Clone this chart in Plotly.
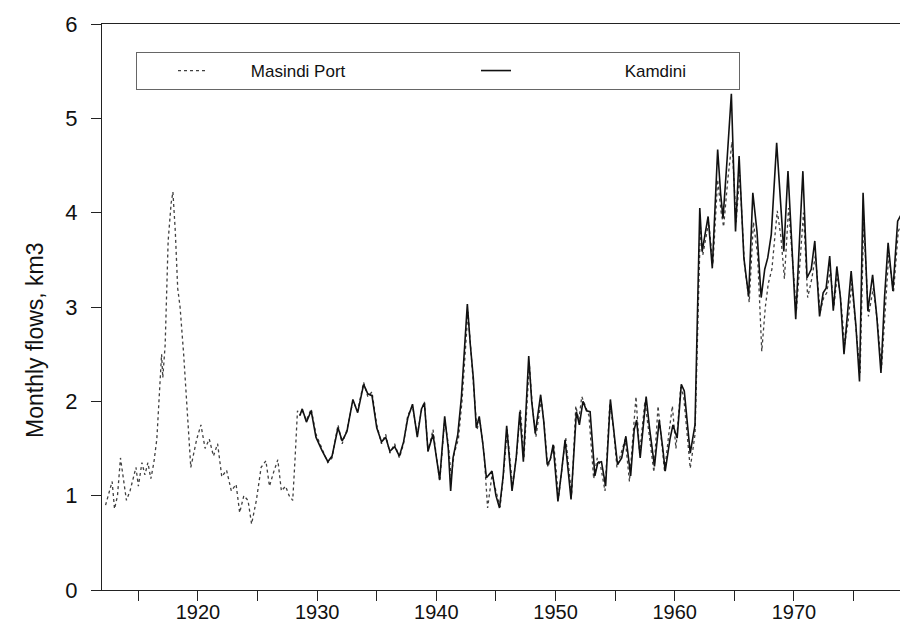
import plotly.graph_objects as go

# ---- Masindi Port (dotted) : year, monthly flow km3 ----
masindi_years = [
    1912.25, 1912.55, 1912.8, 1913.0, 1913.25, 1913.5, 1913.75, 1914.0, 1914.3, 1914.55,
    1914.8, 1915.0, 1915.3, 1915.55, 1915.8, 1916.05, 1916.3, 1916.55, 1916.8, 1916.95,
    1917.05, 1917.25, 1917.5, 1917.75, 1917.9, 1918.1, 1918.3, 1918.5, 1918.8, 1919.1,
    1919.4, 1919.9, 1920.25, 1920.6, 1920.95, 1921.3, 1921.65, 1922.0, 1922.4, 1922.8,
    1923.2, 1923.5, 1923.85, 1924.2, 1924.5, 1924.9, 1925.3, 1925.7, 1926.0, 1926.35,
    1926.7, 1927.0, 1927.35, 1927.65, 1927.95, 1928.15, 1928.35, 1928.55,
    1928.75, 1929.1, 1929.5, 1929.9, 1930.4, 1930.9, 1931.25, 1931.75, 1932.1, 1932.5,
    1933.0, 1933.4, 1933.9, 1934.25, 1934.6, 1935.0, 1935.4, 1935.75, 1936.1, 1936.5,
    1936.9, 1937.25, 1937.6, 1938.0, 1938.4, 1938.75, 1939.0,
    1939.3, 1939.72, 1940.28, 1940.7, 1941.0, 1941.25, 1941.5, 1941.85, 1942.15, 1942.65,
    1942.9, 1943.15, 1943.4, 1943.65, 1944.0, 1944.3, 1944.67, 1945.0, 1945.35, 1945.65,
    1945.95, 1946.2, 1946.4, 1946.75, 1947.05, 1947.35, 1947.8, 1948.05, 1948.35, 1948.8,
    1949.05, 1949.35, 1949.6, 1949.85, 1950.25, 1950.55, 1950.85, 1951.35, 1951.7, 1951.95,
    1952.2, 1952.5, 1952.8, 1953.2, 1953.5, 1953.8, 1954.15, 1954.55, 1954.85, 1955.15,
    1955.5, 1955.85, 1956.2, 1956.5, 1956.75, 1957.05, 1957.5, 1957.85, 1958.25, 1958.6,
    1958.9, 1959.15, 1959.5, 1959.8, 1960.1, 1960.5, 1960.75, 1961.05, 1961.3, 1961.7,
    1962.0, 1962.15, 1962.35, 1962.6, 1962.85, 1963.2, 1963.6, 1963.9, 1964.1, 1964.45,
    1964.8, 1965.15, 1965.45, 1965.85, 1966.25, 1966.6, 1966.95, 1967.3, 1967.6, 1967.85,
    1968.15, 1968.6, 1968.9, 1969.2, 1969.55, 1969.85, 1970.2, 1970.55, 1970.8, 1971.15,
    1971.5, 1971.8, 1972.2, 1972.5, 1972.75, 1973.05, 1973.35, 1973.65, 1973.95, 1974.25,
    1974.55, 1974.85, 1975.25, 1975.55, 1975.85, 1976.25, 1976.65, 1977.0, 1977.35, 1977.65,
    1977.95, 1978.35, 1978.75, 1979.05, 1979.2, 1979.65, 1979.95, 1980.2,
]
masindi_flow = [
    0.90, 1.05, 1.15, 0.86, 1.00, 1.40, 1.20, 0.95, 1.05, 1.18,
    1.30, 1.10, 1.35, 1.22, 1.35, 1.18, 1.35, 1.60, 2.10, 2.50,
    2.25, 2.60, 3.70, 4.10, 4.22, 3.80, 3.20, 3.00, 2.50, 1.90,
    1.30, 1.60, 1.75, 1.50, 1.60, 1.42, 1.55, 1.20, 1.27, 1.05,
    1.12, 0.82, 1.00, 0.95, 0.70, 0.95, 1.30, 1.37, 1.10, 1.25,
    1.38, 1.05, 1.10, 1.00, 0.95, 1.40, 1.90, 1.85,
    1.90, 1.80, 1.92, 1.65, 1.50, 1.35, 1.40, 1.75, 1.55, 1.70,
    2.00, 1.90, 2.20, 2.05, 2.10, 1.75, 1.55, 1.65, 1.45, 1.55,
    1.40, 1.55, 1.85, 1.95, 1.65, 1.90, 2.00,
    1.47, 1.70, 1.15, 1.80, 1.55, 1.20, 1.45, 1.60, 2.00, 2.95,
    2.55, 2.20, 1.70, 1.80, 1.45, 0.87, 1.22, 1.05, 0.88, 1.25,
    1.70, 1.35, 1.10, 1.45, 1.92, 1.40, 2.40, 1.95, 1.62, 2.02,
    1.75, 1.30, 1.40, 1.55, 0.98, 1.30, 1.62, 1.00, 1.95, 1.80,
    2.05, 1.95, 1.85, 1.18, 1.40, 1.30, 1.05, 1.98, 1.72, 1.30,
    1.45, 1.60, 1.15, 1.60, 2.05, 1.45, 2.00, 1.65, 1.25, 1.95,
    1.55, 1.25, 1.65, 1.95, 1.50, 2.15, 2.05, 1.60, 1.29, 1.65,
    3.30, 3.85, 3.55, 3.75, 3.90, 3.45, 4.35, 4.00, 3.85, 4.35,
    4.75, 3.90, 4.40, 3.45, 3.05, 3.90, 3.55, 2.53, 3.00, 3.25,
    3.40, 4.02, 3.75, 3.30, 4.05, 3.55, 2.95, 3.55, 4.00, 3.10,
    3.30, 3.55, 2.95, 3.10, 3.15, 3.40, 3.00, 3.35, 3.05, 2.60,
    2.85, 3.25, 2.75, 2.30, 3.90, 2.90, 3.20, 2.85, 2.35, 3.00,
    3.55, 3.15, 3.80, 3.90, 3.40, 4.10, 3.95, 3.60,
]

# ---- Kamdini (solid) ----
kamdini_years = [
    1928.55, 1928.75, 1929.1, 1929.5, 1929.9, 1930.4, 1930.9, 1931.25, 1931.75, 1932.1,
    1932.5, 1933.0, 1933.4, 1933.9, 1934.25, 1934.6, 1935.0, 1935.4, 1935.75, 1936.1,
    1936.5, 1936.9, 1937.25, 1937.6, 1938.0, 1938.4, 1938.75, 1939.0,
    1939.3, 1939.72, 1940.28, 1940.7, 1941.0, 1941.2, 1941.4, 1941.8, 1942.1, 1942.6,
    1942.85, 1943.1, 1943.35, 1943.6, 1943.9, 1944.2, 1944.67, 1945.0, 1945.3, 1945.6,
    1945.9, 1946.1, 1946.35, 1946.7, 1947.0, 1947.3, 1947.75, 1948.0, 1948.3, 1948.75,
    1949.0, 1949.3, 1949.55, 1949.8, 1950.2, 1950.5, 1950.8, 1951.3, 1951.75, 1952.0,
    1952.3, 1952.6, 1952.9, 1953.3, 1953.55, 1953.85, 1954.2, 1954.6, 1954.9, 1955.2,
    1955.55, 1955.9, 1956.3, 1956.6, 1956.8, 1957.1, 1957.6, 1957.9, 1958.3, 1958.7,
    1959.0, 1959.2, 1959.6, 1959.85, 1960.2, 1960.55, 1960.8, 1961.1, 1961.3, 1961.7,
    1961.95, 1962.1, 1962.3, 1962.55, 1962.8, 1963.15, 1963.6, 1963.85, 1964.05, 1964.4,
    1964.75, 1965.1, 1965.4, 1965.8, 1966.2, 1966.55, 1966.9, 1967.25, 1967.55, 1967.8,
    1968.1, 1968.55, 1968.85, 1969.15, 1969.5, 1969.8, 1970.15, 1970.5, 1970.75, 1971.1,
    1971.45, 1971.75, 1972.15, 1972.45, 1972.7, 1973.0, 1973.3, 1973.6, 1973.9, 1974.2,
    1974.5, 1974.8, 1975.2, 1975.5, 1975.8, 1976.2, 1976.6, 1976.95, 1977.3, 1977.6,
    1977.9, 1978.3, 1978.7, 1979.0, 1979.15, 1979.6, 1979.9, 1980.2,
]
kamdini_flow = [
    1.85, 1.92, 1.78, 1.90, 1.62, 1.48, 1.36, 1.42, 1.72, 1.58,
    1.68, 2.02, 1.88, 2.18, 2.08, 2.06, 1.72, 1.57, 1.62, 1.47,
    1.52, 1.42, 1.57, 1.82, 1.97, 1.62, 1.92, 1.98,
    1.47, 1.65, 1.17, 1.84, 1.50, 1.05, 1.40, 1.65, 2.04, 3.03,
    2.60, 2.25, 1.72, 1.84, 1.55, 1.19, 1.26, 1.00, 0.87, 1.20,
    1.74, 1.40, 1.05, 1.40, 1.89, 1.36, 2.48, 2.00, 1.66, 2.07,
    1.80, 1.33, 1.38, 1.54, 0.94, 1.25, 1.59, 0.96, 1.89, 1.75,
    2.00, 1.90, 1.89, 1.21, 1.35, 1.36, 1.10, 2.02, 1.70, 1.33,
    1.40, 1.63, 1.21, 1.70, 1.80, 1.40, 2.05, 1.70, 1.31, 1.80,
    1.50, 1.26, 1.60, 1.75, 1.61, 2.18, 2.11, 1.70, 1.45, 1.75,
    3.45, 4.05, 3.59, 3.80, 3.96, 3.41, 4.67, 4.20, 3.94, 4.58,
    5.26, 3.80, 4.60, 3.52, 3.11, 4.21, 3.80, 3.10, 3.40, 3.52,
    3.77, 4.74, 4.10, 3.59, 4.44, 3.70, 2.87, 3.80, 4.44, 3.31,
    3.40, 3.70, 2.90, 3.15, 3.20, 3.54, 2.96, 3.43, 3.10, 2.50,
    2.90, 3.38, 2.80, 2.21, 4.21, 2.96, 3.34, 2.90, 2.30, 3.10,
    3.68, 3.17, 3.91, 3.98, 3.38, 4.23, 4.00, 3.59,
]

# ---- axis ticks ----
x_tick_vals = [1915, 1920, 1925, 1930, 1935, 1940, 1945, 1950, 1955, 1960, 1965, 1970, 1975, 1980]
x_tick_text = ["", "1920", "", "1930", "", "1940", "", "1950", "", "1960", "", "1970", "", ""]
y_tick_vals = [0, 1, 2, 3, 4, 5, 6]
x_range = [1911.95, 1980.24]
y_range = [0, 6]

FONT = "Liberation Sans, Arial, Helvetica, sans-serif"
NB = "\u00a0"

fig = go.Figure()
fig.add_trace(go.Scatter(
    x=masindi_years, y=masindi_flow, mode="lines",
    name=NB * 8 + "Masindi Port" + NB * 19,
    line=dict(color="#404040", width=1.3, dash="dot"),
))
fig.add_trace(go.Scatter(
    x=kamdini_years, y=kamdini_flow, mode="lines",
    name=NB * 23 + "Kamdini" + NB * 10,
    line=dict(color="#111111", width=1.6),
))

fig.update_layout(
    width=908, height=624,
    margin=dict(l=94, r=0, t=16, b=42),
    paper_bgcolor="white", plot_bgcolor="white",
    font=dict(family=FONT, size=20, color="#111"),
    showlegend=True,
    legend=dict(
        orientation="h",
        x=(128 - 94) / 814, y=(582 - 44) / 566,
        xanchor="left", yanchor="top",
        bgcolor="white", bordercolor="#666", borderwidth=1,
        font=dict(family=FONT, size=17, color="#111"),
        indentation=36,
        tracegroupgap=0,
    ),
    annotations=[dict(
        text="Monthly flows, km3", textangle=-90,
        xref="paper", yref="paper",
        x=(27 - 94) / 814, y=(582 - 332) / 566,
        xanchor="center", yanchor="middle", showarrow=False,
        font=dict(family=FONT, size=23, color="#111"),
    )],
)
fig.update_xaxes(
    range=x_range, tickvals=x_tick_vals, ticktext=x_tick_text,
    ticks="outside", ticklen=10, tickwidth=1, tickcolor="#222",
    showline=True, linecolor="#222", linewidth=1, mirror=True,
    showgrid=False, zeroline=False,
    ticklabelstandoff=-6,
    tickfont=dict(family=FONT, size=20, color="#111"),
)
fig.update_yaxes(
    range=y_range, tickvals=y_tick_vals,
    ticks="outside", ticklen=10, tickwidth=1, tickcolor="#222",
    showline=True, linecolor="#222", linewidth=1,
    showgrid=False, zeroline=False,
    ticklabelstandoff=9,
    tickfont=dict(family=FONT, size=22, color="#111"),
)

fig.write_html("out.html")
